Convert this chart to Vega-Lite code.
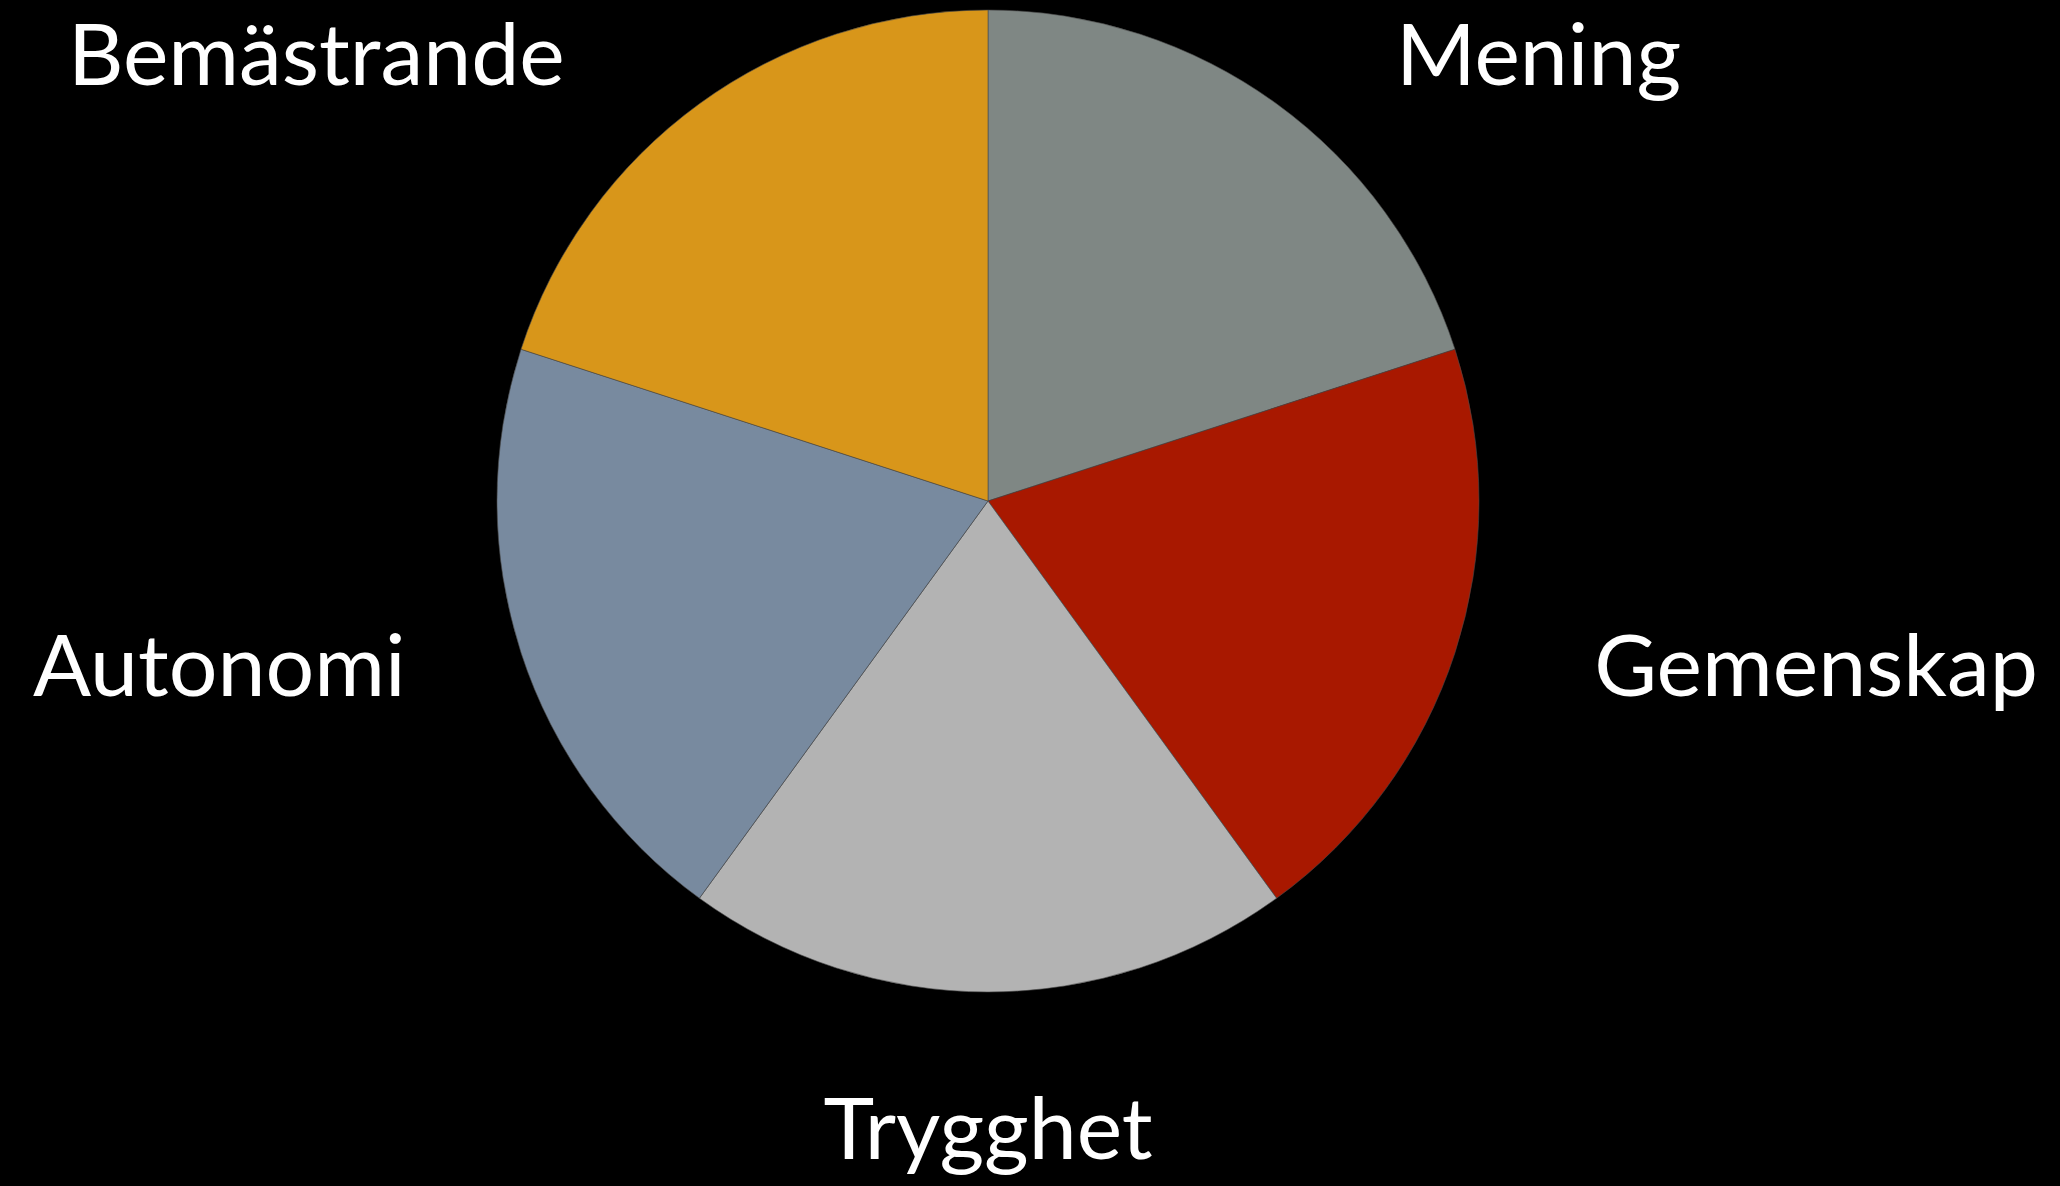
{
  "$schema": "https://vega.github.io/schema/vega-lite/v6.json",
  "width": 1976,
  "height": 1002,
  "autosize": {"type": "none"},
  "padding": {"left": 0, "top": 0, "right": 84, "bottom": 184},
  "background": "#000000",
  "view": {"stroke": null},
  "data": {
    "values": [
      {"rank": 1, "category": "Mening", "value": 1},
      {"rank": 2, "category": "Gemenskap", "value": 1},
      {"rank": 3, "category": "Trygghet", "value": 1},
      {"rank": 4, "category": "Autonomi", "value": 1},
      {"rank": 5, "category": "Bemästrande", "value": 1}
    ]
  },
  "encoding": {
    "theta": {"field": "value", "type": "quantitative", "stack": true},
    "order": {"field": "rank", "type": "quantitative"}
  },
  "layer": [
    {
      "mark": {"type": "arc", "outerRadius": 491, "stroke": "#4a4a4a", "strokeWidth": 1, "strokeOpacity": 0.6},
      "encoding": {
        "color": {
          "field": "category",
          "type": "nominal",
          "scale": {
            "domain": ["Mening", "Gemenskap", "Trygghet", "Autonomi", "Bemästrande"],
            "range": ["#7f8784", "#a81800", "#b3b3b3", "#788a9f", "#d8961a"]
          },
          "legend": null
        }
      }
    },
    {
      "mark": {
        "type": "text",
        "radius": 546,
        "font": "Lato",
        "fontSize": 86,
        "color": "#ffffff",
        "align": {"expr": "sin(scale('theta', (datum.value_start + datum.value_end) / 2)) > 0.2 ? 'left' : (sin(scale('theta', (datum.value_start + datum.value_end) / 2)) < -0.2 ? 'right' : 'center')"},
        "baseline": {"expr": "cos(scale('theta', (datum.value_start + datum.value_end) / 2)) < -0.5 ? 'top' : 'middle'"},
        "dx": {"expr": "sin(scale('theta', (datum.value_start + datum.value_end) / 2)) > 0.2 ? 87 : (sin(scale('theta', (datum.value_start + datum.value_end) / 2)) < -0.2 ? (-74 - 35 * cos(scale('theta', (datum.value_start + datum.value_end) / 2))) : 0)"},
        "dy": {"expr": "cos(scale('theta', (datum.value_start + datum.value_end) / 2)) < -0.9 ? 44 : 0"}
      },
      "encoding": {
        "text": {"field": "category", "type": "nominal"}
      }
    }
  ]
}
